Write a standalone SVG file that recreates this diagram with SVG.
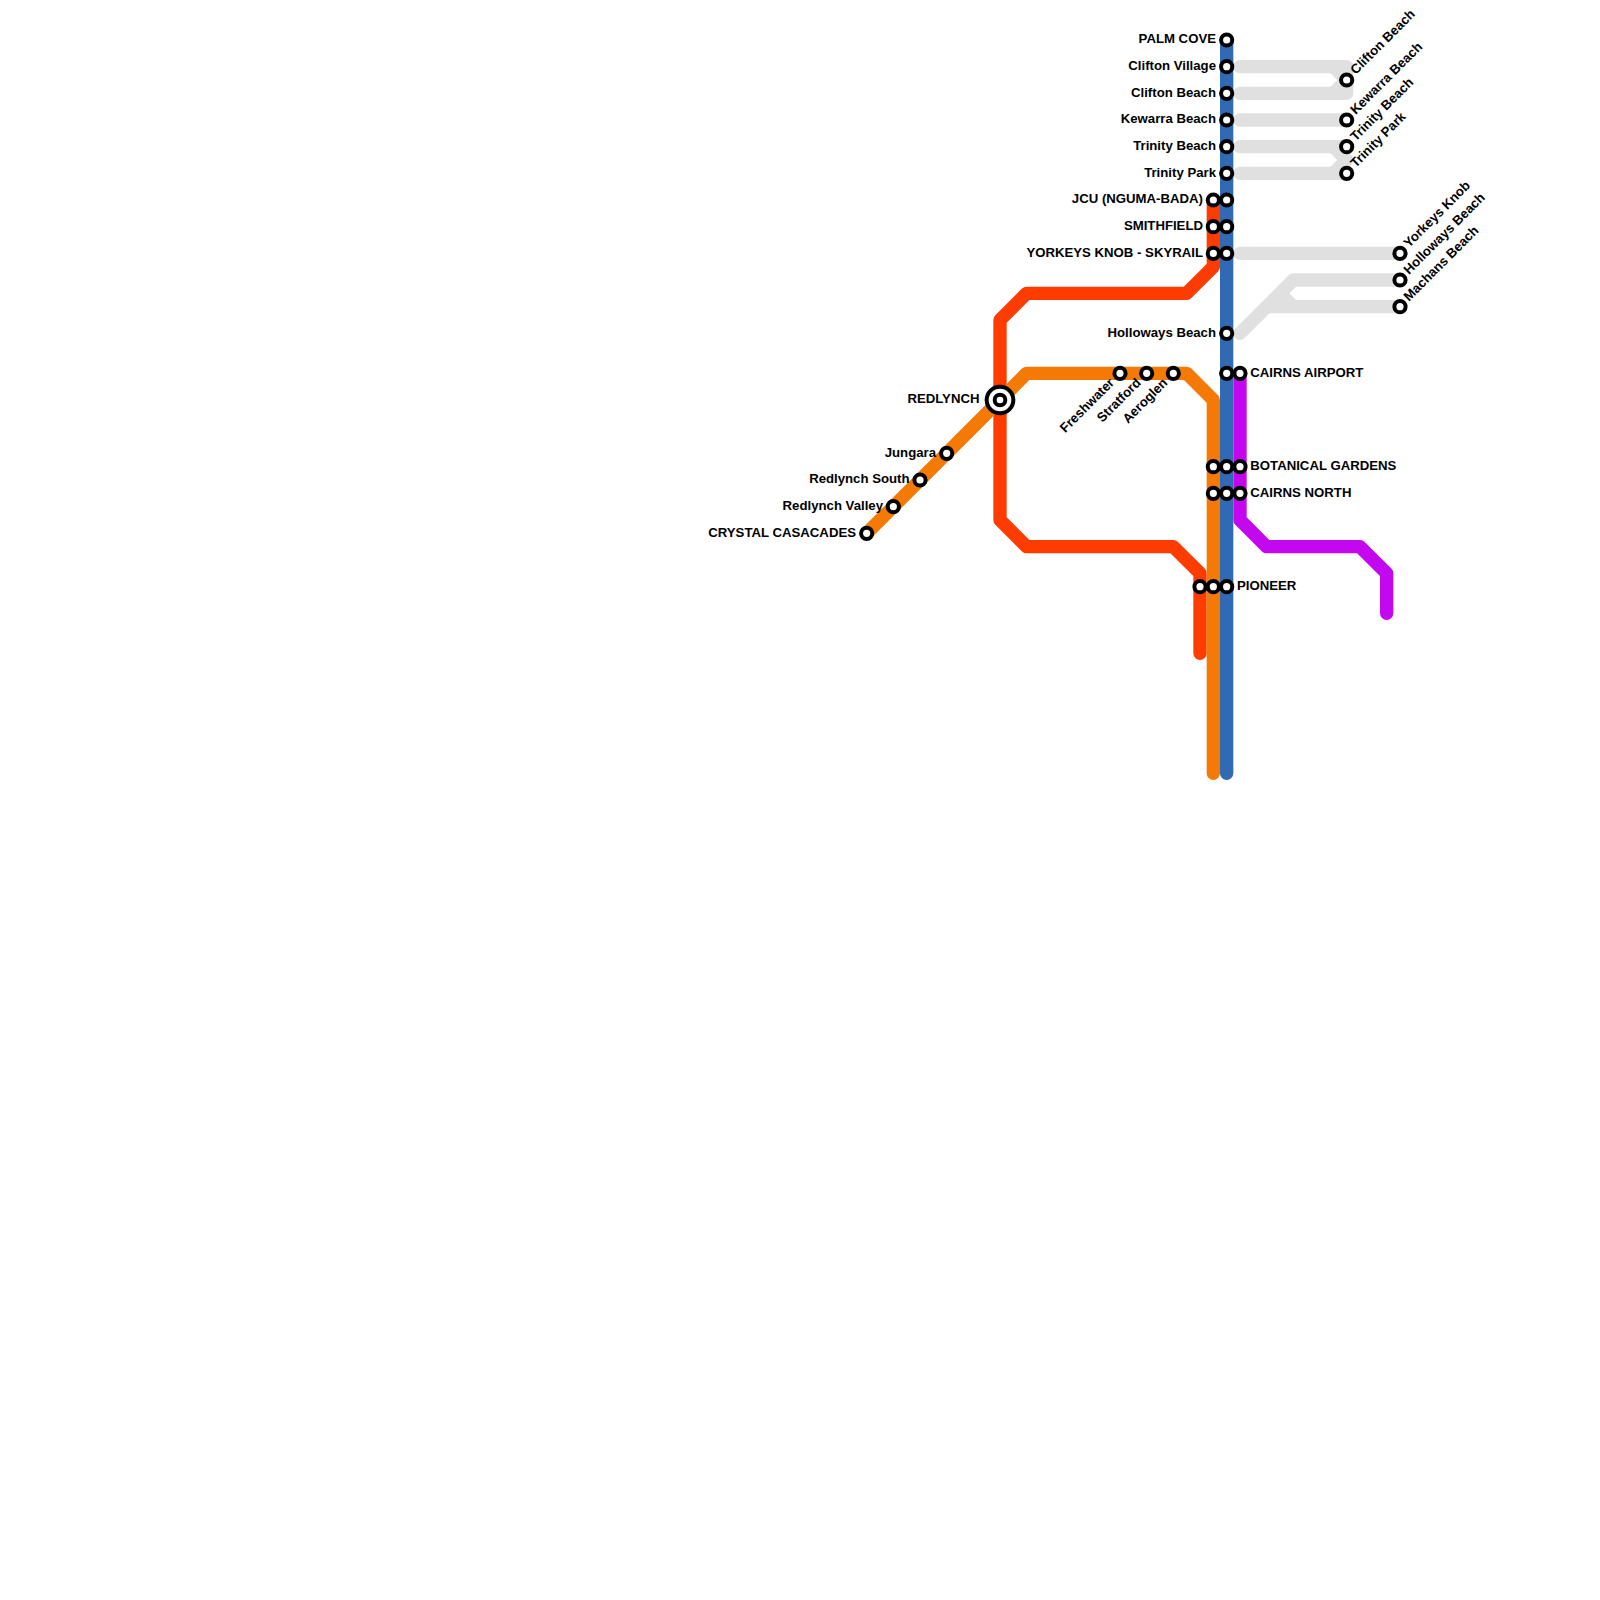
<svg xmlns="http://www.w3.org/2000/svg" width="1600" height="1600" viewBox="0 0 1600 1600">
<style>
.l{fill:none;stroke-width:13.33;stroke-linecap:round;stroke-linejoin:round}
.g{stroke:#e0e0e0}.r{stroke:#ff3c00}.o{stroke:#f47a05}.b{stroke:#316ab4}.p{stroke:#c308f0}
.s{fill:#fff;stroke:#000;stroke-width:4}
text{font-family:"Liberation Sans",Arial,sans-serif;font-size:13.2px;font-weight:700;fill:#000}
.e{text-anchor:end}
</style>
<rect width="1600" height="1600" fill="#fff"/>
<g id="connectors">
<path class="l g" d="M1240 66.67H1346.67V93.33H1240M1333.33 66.67L1346.67 80L1333.33 93.33"/>
<path class="l g" d="M1240 120H1346.67"/>
<path class="l g" d="M1240 146.67H1333.33L1346.67 160L1333.33 173.33H1240M1333.33 146.67H1346.67M1333.33 173.33H1346.67"/>
<path class="l g" d="M1240 253.33H1400"/>
<path class="l g" d="M1240 333.33L1293.33 280H1400M1240 333.33L1266.67 306.67H1400M1280 293.33L1293.33 306.67"/>
<path class="l p" d="M1240 373.33V520L1266.67 546.67H1360L1386.67 573.33V613.33"/>
<path class="l r" d="M1213.33 200V266.67L1186.67 293.33H1026.67L1000 320V520L1026.67 546.67H1173.33L1200 573.33V653.33"/>
<path class="l o" d="M866.67 533.33L1026.67 373.33H1186.67L1213.33 400V773.33"/>
<path class="l b" d="M1226.67 40V773.33"/>
</g>
<g id="palm-cove"><circle class="s" cx="1226.67" cy="40" r="5.6"/><text class="e" x="1216" y="43.2">PALM COVE</text></g>
<g id="clifton-village"><circle class="s" cx="1226.67" cy="66.67" r="5.6"/><text class="e" x="1216" y="69.87">Clifton Village</text></g>
<g id="clifton-beach"><circle class="s" cx="1226.67" cy="93.33" r="5.6"/><text class="e" x="1216" y="96.53">Clifton Beach</text></g>
<g id="kewarra-beach"><circle class="s" cx="1226.67" cy="120" r="5.6"/><text class="e" x="1216" y="123.2">Kewarra Beach</text></g>
<g id="trinity-beach"><circle class="s" cx="1226.67" cy="146.67" r="5.6"/><text class="e" x="1216" y="149.87">Trinity Beach</text></g>
<g id="trinity-park"><circle class="s" cx="1226.67" cy="173.33" r="5.6"/><text class="e" x="1216" y="176.53">Trinity Park</text></g>
<g id="jcu"><circle class="s" cx="1213.33" cy="200" r="5.6"/><circle class="s" cx="1226.67" cy="200" r="5.6"/><text class="e" x="1203" y="203.2">JCU (NGUMA-BADA)</text></g>
<g id="smithfield"><circle class="s" cx="1213.33" cy="226.67" r="5.6"/><circle class="s" cx="1226.67" cy="226.67" r="5.6"/><text class="e" x="1203" y="229.87">SMITHFIELD</text></g>
<g id="yorkeys-skyrail"><circle class="s" cx="1213.33" cy="253.33" r="5.6"/><circle class="s" cx="1226.67" cy="253.33" r="5.6"/><text class="e" x="1203" y="256.53">YORKEYS KNOB - SKYRAIL</text></g>
<g id="holloways-beach"><circle class="s" cx="1226.67" cy="333.33" r="5.6"/><text class="e" x="1216" y="336.53">Holloways Beach</text></g>
<g id="cairns-airport"><circle class="s" cx="1226.67" cy="373.33" r="5.6"/><circle class="s" cx="1240" cy="373.33" r="5.6"/><text x="1250.3" y="376.53">CAIRNS AIRPORT</text></g>
<g id="botanical-gardens"><circle class="s" cx="1213.33" cy="466.67" r="5.6"/><circle class="s" cx="1226.67" cy="466.67" r="5.6"/><circle class="s" cx="1240" cy="466.67" r="5.6"/><text x="1250.3" y="469.87">BOTANICAL GARDENS</text></g>
<g id="cairns-north"><circle class="s" cx="1213.33" cy="493.33" r="5.6"/><circle class="s" cx="1226.67" cy="493.33" r="5.6"/><circle class="s" cx="1240" cy="493.33" r="5.6"/><text x="1250.3" y="496.53">CAIRNS NORTH</text></g>
<g id="pioneer"><circle class="s" cx="1200" cy="586.67" r="5.6"/><circle class="s" cx="1213.33" cy="586.67" r="5.6"/><circle class="s" cx="1226.67" cy="586.67" r="5.6"/><text x="1237" y="589.87">PIONEER</text></g>
<g id="redlynch"><circle class="s" cx="1000" cy="400" r="13.33"/><circle class="s" cx="1000" cy="400" r="5.33"/><text class="e" x="979.5" y="403.2">REDLYNCH</text></g>
<g id="jungara"><circle class="s" cx="946.67" cy="453.33" r="5.6"/><text class="e" x="936" y="456.53">Jungara</text></g>
<g id="redlynch-south"><circle class="s" cx="920" cy="480" r="5.6"/><text class="e" x="909.5" y="483.2">Redlynch South</text></g>
<g id="redlynch-valley"><circle class="s" cx="893.33" cy="506.67" r="5.6"/><text class="e" x="883" y="509.87">Redlynch Valley</text></g>
<g id="crystal-cascades"><circle class="s" cx="866.67" cy="533.33" r="5.6"/><text class="e" x="856" y="536.53">CRYSTAL CASACADES</text></g>
<g id="freshwater"><circle class="s" cx="1120" cy="373.33" r="5.6"/><text class="e" transform="translate(1115 383.5) rotate(-45)">Freshwater</text></g>
<g id="stratford"><circle class="s" cx="1146.67" cy="373.33" r="5.6"/><text class="e" transform="translate(1141.7 383.5) rotate(-45)">Stratford</text></g>
<g id="aeroglen"><circle class="s" cx="1173.33" cy="373.33" r="5.6"/><text class="e" transform="translate(1168.3 383.5) rotate(-45)">Aeroglen</text></g>
<g id="clifton-beach-east"><circle class="s" cx="1346.67" cy="80" r="5.6"/><text transform="translate(1355.7 75) rotate(-45)">Clifton Beach</text></g>
<g id="kewarra-beach-east"><circle class="s" cx="1346.67" cy="120" r="5.6"/><text transform="translate(1355.7 115) rotate(-45)">Kewarra Beach</text></g>
<g id="trinity-beach-east"><circle class="s" cx="1346.67" cy="146.67" r="5.6"/><text transform="translate(1355.7 141.67) rotate(-45)">Trinity Beach</text></g>
<g id="trinity-park-east"><circle class="s" cx="1346.67" cy="173.33" r="5.6"/><text transform="translate(1355.7 168.33) rotate(-45)">Trinity Park</text></g>
<g id="yorkeys-knob-east"><circle class="s" cx="1400" cy="253.33" r="5.6"/><text transform="translate(1409 248.33) rotate(-45)">Yorkeys Knob</text></g>
<g id="holloways-beach-east"><circle class="s" cx="1400" cy="280" r="5.6"/><text transform="translate(1409 275) rotate(-45)">Holloways Beach</text></g>
<g id="machans-beach-east"><circle class="s" cx="1400" cy="306.67" r="5.6"/><text transform="translate(1409 301.67) rotate(-45)">Machans Beach</text></g>
</svg>
